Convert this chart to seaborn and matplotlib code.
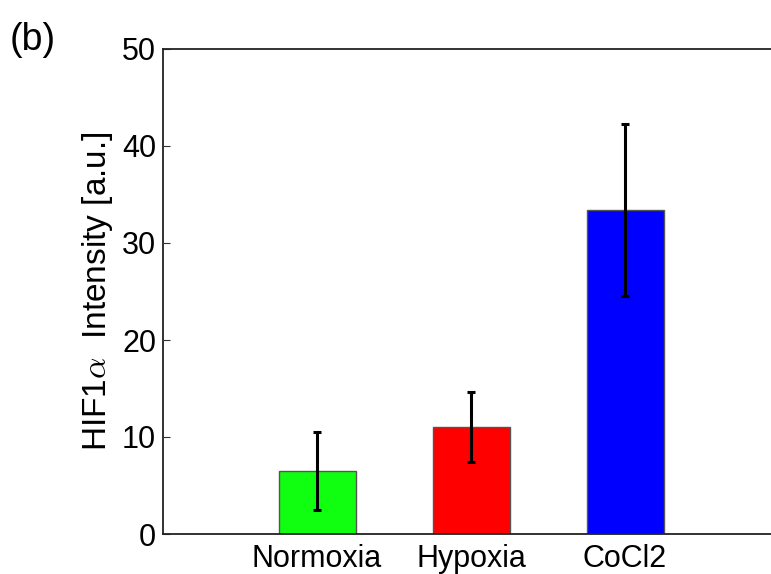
import numpy as np
import pandas as pd
import matplotlib
matplotlib.use("Agg")
import matplotlib.pyplot as plt
import seaborn as sns

# data
conditions = ["Normoxia", "Hypoxia", "CoCl2"]
intensity = [6.5, 11.0, 33.4]
intensity_err = [4.0, 3.6, 8.9]
bar_colors = ["#10ff10", "#ff0000", "#0000ff"]
y_ticks = [0, 10, 20, 30, 40, 50]

df = pd.DataFrame({"condition": conditions, "intensity": intensity})

sns.set_style("white")
plt.rcParams["font.family"] = ["Liberation Sans", "DejaVu Sans"]
plt.rcParams["mathtext.fontset"] = "cm"
plt.rcParams["text.color"] = "black"
plt.rcParams["axes.labelcolor"] = "black"

fig = plt.figure(figsize=(7.71, 5.74), dpi=100)
ax = fig.add_axes([163 / 771, 40 / 574, 616 / 771, 485 / 574])

sns.barplot(data=df, x="condition", y="intensity", hue="condition",
            palette=bar_colors, saturation=1, width=0.5, edgecolor="#555555",
            linewidth=1, legend=False, ax=ax, zorder=2)
ax.errorbar(np.arange(len(conditions)), intensity, yerr=intensity_err,
            fmt="none", ecolor="black", elinewidth=2.2, capsize=3,
            capthick=2.2, zorder=3)

ax.set_xlim(-1, 3)
ax.set_ylim(0, 50)
ax.set_yticks(y_ticks)
ax.set_xlabel("")
ax.set_ylabel(r"HIF1$\alpha$  Intensity [a.u.]", fontsize=24, labelpad=5)
ax.tick_params(axis="y", direction="in", length=5, width=0.8, labelsize=22,
               right=True, left=True, pad=5, colors="#333333", labelcolor="black")
ax.tick_params(axis="x", length=0, labelsize=22, pad=7, labelcolor="black")
for s in ax.spines.values():
    s.set_visible(True)
    s.set_color("#222222")
    s.set_linewidth(1.3)

fig.text(10 / 771, 1 - 50 / 574, "(b)", fontsize=27, va="baseline")

fig.savefig("out.png", dpi=100)
